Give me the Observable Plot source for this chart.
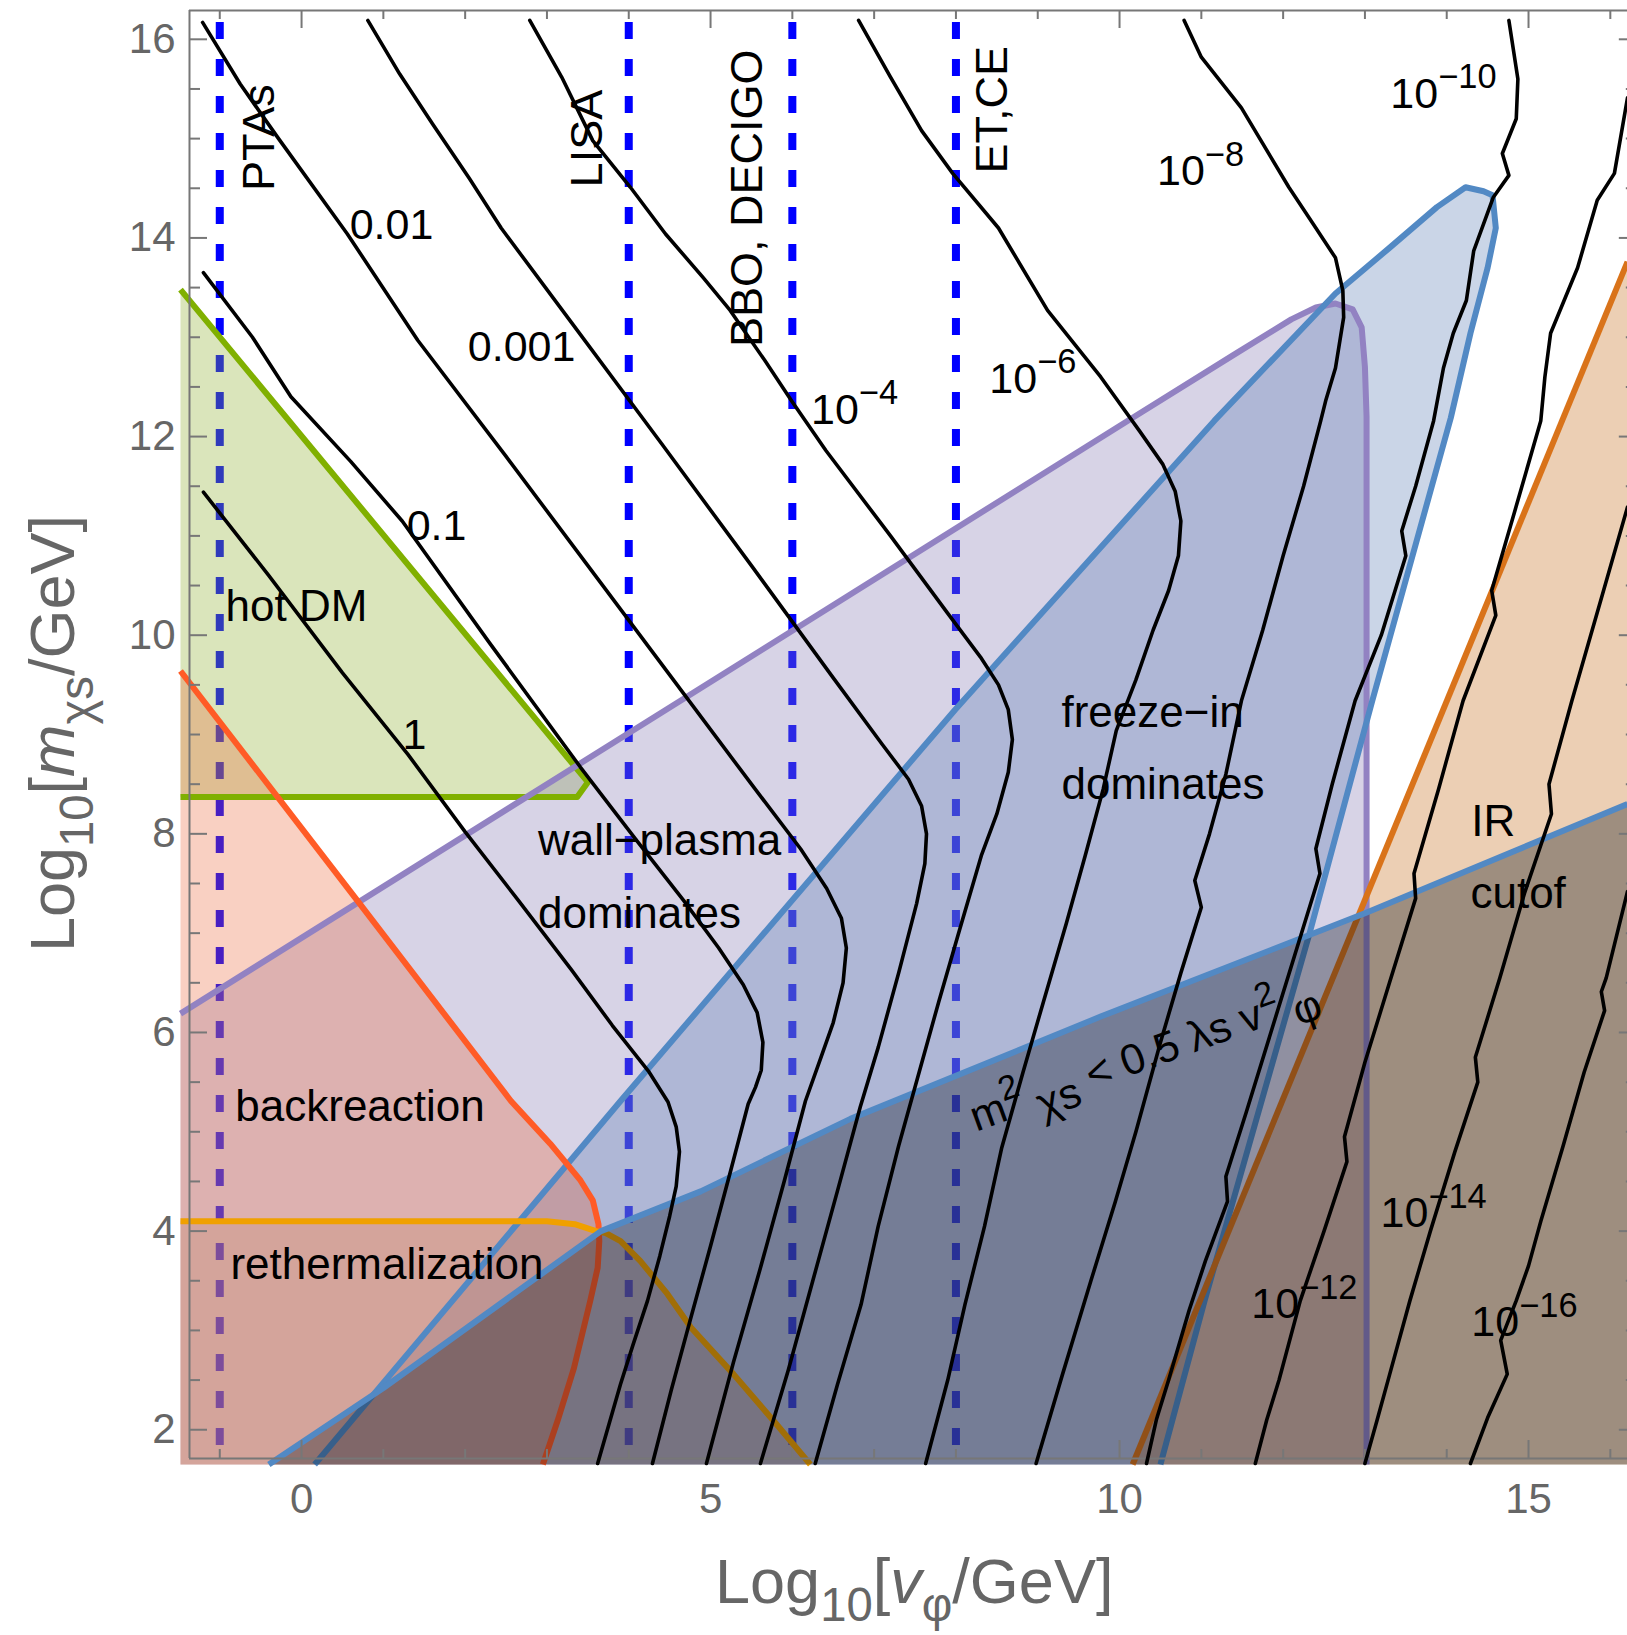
<!DOCTYPE html>
<html><head><meta charset="utf-8">
<script src="https://cdn.jsdelivr.net/npm/d3@7"></script>
<script src="https://cdn.jsdelivr.net/npm/@observablehq/plot@0.6"></script>
<style>body{margin:0;background:#fff}svg{display:block}</style>
</head><body><div id="chart"></div>
<script>
// ---------- axes ----------
const xTicksMajor = [0, 5, 10, 15];
const xTicksMinor = [-1, 1, 2, 3, 4, 6, 7, 8, 9, 11, 12, 13, 14, 16];
const yTicksMajor = [2, 4, 6, 8, 10, 12, 14, 16];
const yTicksMinor = [2.5, 3, 3.5, 4.5, 5, 5.5, 6.5, 7, 7.5, 8.5, 9, 9.5, 10.5, 11, 11.5, 12.5, 13, 13.5, 14.5, 15, 15.5];

// ---------- detector sensitivity lines ----------
const detectorX = [-1, 4, 6, 8];
const detectorNames = ["PTAs", "LISA", "BBO, DECIGO", "ET,CE"];
const detectorLabelX = [-0.51, 3.50, 5.45, 8.45];
const detectorLabelY = [15.01, 15.0, 14.40, 15.29];

// ---------- regions (x = log10 v_phi, y = log10 m_chi_s) ----------
const hotDMRegion = [[-1.48,13.48],[3.5,8.52],[3.37,8.37],[-1.48,8.37]];
const hotDMEdge = [[-1.48,13.48],[3.5,8.52],[3.37,8.37],[-1.48,8.37]];

const backreactionEdge = [[-1.48,9.64],[0.68,7.33],[2.56,5.31],[3.04,4.88],[3.41,4.51],[3.56,4.31],[3.63,4.07],[3.64,3.90],[3.62,3.63],[3.53,3.30],[3.33,2.62],[3.13,2.09],[2.95,1.65]];
const backreactionRegion = backreactionEdge.concat([[-1.48,1.65]]);

const rethermEdge = [[-1.48,4.10],[3.0,4.10],[3.34,4.07],[3.6,4.0],[3.72,3.98],[3.90,3.90],[4.14,3.70],[4.47,3.37],[4.76,3.03],[5.28,2.56],[5.77,2.09],[6.22,1.65]];
const rethermRegion = rethermEdge.concat([[-1.48,1.65]]);

const wallEdge = [[-1.48,6.19],[10.18,12.2],[11.41,12.83],[12.1,13.18],[12.4,13.3],[12.64,13.34],[12.85,13.28],[12.96,13.1],[13.0,12.7],[13.02,12.2],[13.02,1.65]];
const wallRegion = wallEdge.concat([[-1.48,1.65]]);

const freezeEdge = [[0.16,1.65],[3.90,5.31],[7.99,9.25],[11.16,12.16],[12.64,13.44],[13.3,13.9],[13.88,14.31],[14.23,14.51],[14.45,14.47],[14.56,14.43],[14.6,14.1],[14.5,13.7],[14.29,13.04],[14.05,12.19],[13.09,9.34],[12.33,7.02],[11.04,3.30],[10.5,1.65]];
const freezeRegion = freezeEdge;

const irEdge = [[10.16,1.65],[16.21,13.76]];
const irRegion = irEdge.concat([[16.21,1.65]]);

const m2Edge = [[-0.40,1.65],[1.0,2.42],[3.66,4.0],[4.88,4.40],[6.71,5.13],[9.77,6.16],[13.0,7.2],[16.21,8.30]];
const m2Region = m2Edge.concat([[16.21,1.65]]);

// ---------- contours ----------
const contour_1 = [[-1.20,11.44],[-0.4,10.6],[0.5,9.62],[1.3,8.8],[2.0,8.02],[2.65,7.33],[3.3,6.63],[3.8,6.07],[4.25,5.6],[4.48,5.3],[4.58,5.05],[4.62,4.8],[4.58,4.45],[4.5,4.15],[4.38,3.75],[4.23,3.30],[4.05,2.85],[3.9,2.46],[3.76,2.06],[3.62,1.66]];
const contour_0_1 = [[-1.2,13.65],[-0.6,13.0],[-0.13,12.4],[0.6,11.75],[1.23,11.15],[2.3,9.92],[3.41,8.67],[4.1,7.93],[4.67,7.33],[5.1,6.85],[5.4,6.48],[5.57,6.2],[5.64,5.9],[5.62,5.62],[5.55,5.45],[5.46,5.28],[5.25,4.62],[5.0,3.85],[4.75,3.1],[4.52,2.4],[4.29,1.66]];
const contour_0_01 = [[-1.21,16.17],[-0.75,15.55],[-0.29,15.01],[0.56,14.04],[1.42,12.97],[2.5,11.8],[3.5,10.7],[4.5,9.6],[5.5,8.5],[6.1,7.85],[6.42,7.45],[6.6,7.15],[6.66,6.85],[6.62,6.5],[6.5,6.1],[6.35,5.75],[6.16,5.31],[5.9,4.5],[5.6,3.6],[5.28,2.68],[4.95,1.66]];
const contour_0_001 = [[0.81,16.19],[1.2,15.65],[1.6,15.15],[2.05,14.6],[2.44,14.1],[3.28,13.17],[4.40,11.93],[5.5,10.7],[6.5,9.57],[7.1,8.9],[7.42,8.55],[7.58,8.28],[7.64,8.0],[7.62,7.7],[7.52,7.3],[7.3,6.6],[7.05,5.85],[6.83,5.25],[6.55,4.4],[6.25,3.5],[5.95,2.6],[5.61,1.66]];
const contour_1e4 = [[2.79,16.19],[3.18,15.62],[3.56,14.98],[4.02,14.51],[4.45,14.04],[4.91,13.6],[5.24,13.27],[5.66,12.77],[5.99,12.36],[6.41,11.86],[7.2,11.0],[7.9,10.22],[8.3,9.78],[8.52,9.5],[8.64,9.25],[8.69,8.95],[8.64,8.62],[8.5,8.2],[8.31,7.78],[8.05,7.05],[7.79,6.31],[7.55,5.6],[7.3,4.86],[7.05,4.05],[6.84,3.26],[6.55,2.45],[6.28,1.66]];
const contour_1e6 = [[6.81,16.19],[7.2,15.62],[7.58,15.08],[7.96,14.65],[8.52,14.1],[9.12,13.27],[9.77,12.6],[10.25,12.05],[10.53,11.72],[10.68,11.45],[10.75,11.15],[10.72,10.8],[10.6,10.45],[10.41,10.05],[10.2,9.55],[9.96,9.04],[9.8,8.45],[9.58,7.78],[9.35,7.1],[9.07,6.31],[8.82,5.6],[8.56,4.84],[8.35,4.05],[8.11,3.26],[7.9,2.5],[7.63,1.66]];
const contour_1e8 = [[10.79,16.19],[11.0,15.82],[11.49,15.31],[12.07,14.51],[12.4,14.1],[12.64,13.8],[12.73,13.47],[12.74,13.2],[12.64,12.69],[12.52,12.36],[12.46,12.16],[12.25,11.5],[12.0,10.8],[11.75,10.05],[11.49,9.34],[11.3,8.6],[11.1,8.0],[10.92,7.53],[11.0,7.26],[10.75,6.6],[10.5,5.9],[10.2,5.0],[9.95,4.3],[9.65,3.5],[9.3,2.55],[8.98,1.66]];
const contour_1e10 = [[14.76,16.19],[14.87,15.6],[14.85,15.2],[14.68,14.85],[14.76,14.63],[14.57,14.41],[14.33,13.87],[14.24,13.37],[14.08,13.04],[13.96,12.69],[13.84,12.16],[13.62,11.5],[13.45,11.05],[13.5,10.8],[13.2,10.0],[12.88,9.34],[12.6,8.5],[12.4,7.85],[12.45,7.6],[12.15,6.8],[11.85,6.0],[11.55,5.2],[11.3,4.55],[11.32,4.3],[11.05,3.7],[10.85,3.2],[10.6,2.5],[10.45,2.1],[10.33,1.66]];
const contour_1e12 = [[16.21,15.41],[16.05,14.65],[15.84,14.38],[15.6,13.7],[15.27,13.04],[15.2,12.6],[15.15,12.16],[14.85,11.3],[14.55,10.45],[14.6,10.2],[14.2,9.34],[13.9,8.45],[13.6,7.6],[13.62,7.35],[13.3,6.5],[13.0,5.7],[12.75,4.95],[12.78,4.7],[12.5,4.0],[12.21,3.3],[11.95,2.5],[11.8,2.1],[11.66,1.66]];
const contour_1e14 = [[16.21,11.29],[15.9,10.4],[15.53,9.34],[15.25,8.5],[15.28,8.2],[14.95,7.4],[14.65,6.55],[14.35,5.75],[14.38,5.5],[14.1,4.8],[13.8,4.0],[13.55,3.3],[13.3,2.55],[13.15,2.1],[13.0,1.66]];
const contour_1e16 = [[16.21,7.42],[15.95,6.55],[15.89,6.41],[15.93,6.22],[15.68,5.6],[15.42,4.85],[15.15,4.1],[15.0,3.65],[14.85,3.3],[14.66,2.9],[14.74,2.56],[14.5,2.12],[14.4,1.9],[14.29,1.66]];

const contourLabels = ["1", "0.1", "0.01", "0.001", "10^{−4}", "10^{−6}", "10^{−8}", "10^{−10}", "10^{−12}", "10^{−14}", "10^{−16}"];
const contourLabelX = [1.38, 1.65, 1.10, 2.69, 6.76, 8.94, 10.99, 13.96, 12.26, 13.84, 14.95];
const contourLabelY = [8.99, 11.10, 14.13, 12.90, 12.27, 12.58, 14.67, 15.45, 3.26, 4.18, 3.08];

const regionLabels = ["hot DM", "backreaction", "rethermalization", "wall−plasma", "dominates", "freeze−in", "dominates", "IR", "cutof"];
const regionLabelX = [-0.93, -0.81, -0.87, 2.89, 2.89, 9.29, 9.29, 14.30, 14.29];
const regionLabelY = [10.28, 5.25, 3.66, 7.93, 7.19, 9.22, 8.49, 8.12, 7.40];

const m2Label = "m^{2} ,{χs} < 0.5 λs v^{2} ,{φ}";
const m2LabelX = 8.19, m2LabelY = 5.13;

const xTitle = "Log_{10}[*{v}_{φ}/GeV]";
const yTitle = "Log_{10}[*{m}_{χs}/GeV]";

// ---------- layout ----------
const W = 1627, H = 1635;
const mL = 180, mR = 0, mT = 10, mB = 171;
const xDom = [-1.48, 16.21], yDom = [1.65, 16.29];
const kx = (W - mL - mR) / (xDom[1] - xDom[0]);
const ky = (H - mT - mB) / (yDom[1] - yDom[0]);
const frameX0 = -1.37, frameX1 = 16.33, frameY0 = 1.71, frameY1 = 16.29;

const pts = a => a.map(([x, y]) => ({x, y}));
const contours = [contour_1, contour_0_1, contour_0_01, contour_0_001, contour_1e4, contour_1e6, contour_1e8, contour_1e10, contour_1e12, contour_1e14, contour_1e16];
const contourData = contours.flatMap((c, i) => c.map(([x, y]) => ({id: i, x, y})));

const fillOf = (region, color, op) => Plot.line(pts(region), {x: "x", y: "y", fill: color, fillOpacity: op, stroke: "none"});
const edgeOf = (edge, color) => Plot.line(pts(edge), {x: "x", y: "y", stroke: color, strokeWidth: 6, strokeLinejoin: "round", strokeLinecap: "butt"});

const gray = "#777";
const idx = a => a.map((_, i) => i);

const chart = Plot.plot({
  width: W, height: H,
  marginLeft: mL, marginRight: mR, marginTop: mT, marginBottom: mB,
  x: {domain: xDom},
  y: {domain: yDom},
  style: {fontFamily: "'Liberation Sans', Arial, sans-serif", background: "#fff", overflow: "visible"},
  marks: [
    // detector dashed lines (under the regions)
    Plot.ruleX(detectorX, {x: d => d, y1: 16.17, y2: 1.68, stroke: "#0000ff", strokeWidth: 8, strokeDasharray: "17,20"}),
    // region fills
    fillOf(hotDMRegion, "#8fb032", 0.33),
    fillOf(wallRegion, "#8778b3", 0.33),
    fillOf(freezeRegion, "#5e81b5", 0.33),
    fillOf(backreactionRegion, "#eb6235", 0.3),
    fillOf(rethermRegion, "#be8264", 0.27),
    fillOf(irRegion, "#c56e1a", 0.33),
    // region boundaries
    edgeOf(hotDMEdge, "#80b000"),
    edgeOf(wallEdge, "#9282c2"),
    edgeOf(freezeEdge, "#5289c4"),
    edgeOf(backreactionEdge, "#ff5b26"),
    edgeOf(rethermEdge, "#f0a000"),
    edgeOf(irEdge, "#d9731a"),
    // m^2 region on top
    fillOf(m2Region, "#000814", 0.33),
    edgeOf(m2Edge, "#5289c4"),
    // frame
    Plot.ruleX([frameX0], {x: d => d, y1: frameY0, y2: frameY1, stroke: gray, strokeWidth: 2}),
    Plot.ruleY([frameY0, frameY1], {y: d => d, x1: frameX0, x2: frameX1, stroke: gray, strokeWidth: 2}),
    // ticks
    Plot.ruleX(xTicksMajor, {x: d => d, y1: frameY0, y2: frameY0 + 18 / ky, stroke: gray, strokeWidth: 2}),
    Plot.ruleX(xTicksMinor, {x: d => d, y1: frameY0, y2: frameY0 + 9 / ky, stroke: gray, strokeWidth: 2}),
    Plot.ruleX(xTicksMajor, {x: d => d, y1: frameY1, y2: frameY1 - 18 / ky, stroke: gray, strokeWidth: 2}),
    Plot.ruleX(xTicksMinor, {x: d => d, y1: frameY1, y2: frameY1 - 9 / ky, stroke: gray, strokeWidth: 2}),
    Plot.ruleY(yTicksMajor, {y: d => d, x1: frameX0, x2: frameX0 + 18 / kx, stroke: gray, strokeWidth: 2}),
    Plot.ruleY(yTicksMinor, {y: d => d, x1: frameX0, x2: frameX0 + 11 / kx, stroke: gray, strokeWidth: 2}),
    Plot.ruleY(yTicksMajor, {y: d => d, x1: frameX1, x2: frameX1 - 18 / kx, stroke: gray, strokeWidth: 2}),
    Plot.ruleY(yTicksMinor, {y: d => d, x1: frameX1, x2: frameX1 - 11 / kx, stroke: gray, strokeWidth: 2}),
    // tick labels
    Plot.axisX(xTicksMajor, {anchor: "bottom", tickSize: 0, tickPadding: 19, fontSize: 42, tickFormat: d => String(d), color: "#666", fill: "#666", label: null}),
    Plot.axisY(yTicksMajor, {anchor: "left", tickSize: 0, tickPadding: 5, fontSize: 42, tickFormat: d => String(d), color: "#666", fill: "#666", label: null}),
    // contours
    Plot.line(contourData, {x: "x", y: "y", z: "id", stroke: "#000", strokeWidth: 3.6, strokeLinejoin: "round"}),
    // contour labels
    Plot.text(idx(contourLabels), {x: i => contourLabelX[i], y: i => contourLabelY[i], text: i => contourLabels[i], fontSize: 43, fill: "#000", className: "rich"}),
    // detector labels
    Plot.text(idx(detectorNames), {x: i => detectorLabelX[i], y: i => detectorLabelY[i], text: i => detectorNames[i], rotate: -90, fontSize: 45, fill: "#000"}),
    // region labels
    Plot.text(idx(regionLabels), {x: i => regionLabelX[i], y: i => regionLabelY[i], text: i => regionLabels[i], textAnchor: "start", fontSize: 44, fill: "#000"}),
    Plot.text([m2Label], {x: () => m2LabelX, y: () => m2LabelY, text: d => d, textAnchor: "start", rotate: -20, fontSize: 43, fill: "#000", className: "rich"}),
    // axis titles
    Plot.text([xTitle], {x: () => 7.49, frameAnchor: "bottom", dy: 138, text: d => d, textAnchor: "middle", fontSize: 63, fill: "#666", className: "rich"}),
    Plot.text([yTitle], {y: () => 9.01, frameAnchor: "left", dx: -127, rotate: -90, text: d => d, textAnchor: "middle", fontSize: 63, fill: "#666", className: "rich"})
  ]
});

document.getElementById("chart").appendChild(chart);

// rich text: ^{sup}, _{sub}, ,{lowered}, *{italic}
d3.select(chart).selectAll("g.rich text").each(function() {
  const el = d3.select(this);
  const src = this.textContent;
  const fs = parseFloat(getComputedStyle(this).fontSize) || 40;
  this.textContent = "";
  el.style("white-space", "pre");
  const re = /([\^_*,])\{([^}]*)\}|([^\^_*,]+|,)/g;
  let m, cur = 0;
  while ((m = re.exec(src))) {
    let t, shift = 0, size = 1, italic = false;
    if (m[1]) {
      t = m[2];
      if (m[1] === "^") { shift = -0.45; size = 0.8; }
      else if (m[1] === "_") { shift = 0.3; size = 0.75; }
      else if (m[1] === ",") { shift = 0.25; size = 1; }
      else italic = true;
    } else t = m[3];
    const ts = el.append("tspan").text(t);
    const dy = (shift - cur) * fs;
    if (dy) ts.attr("dy", dy);
    if (size !== 1) ts.attr("font-size", size * fs);
    if (italic) ts.attr("font-style", "italic");
    cur = shift;
  }
});
</script></body></html>
